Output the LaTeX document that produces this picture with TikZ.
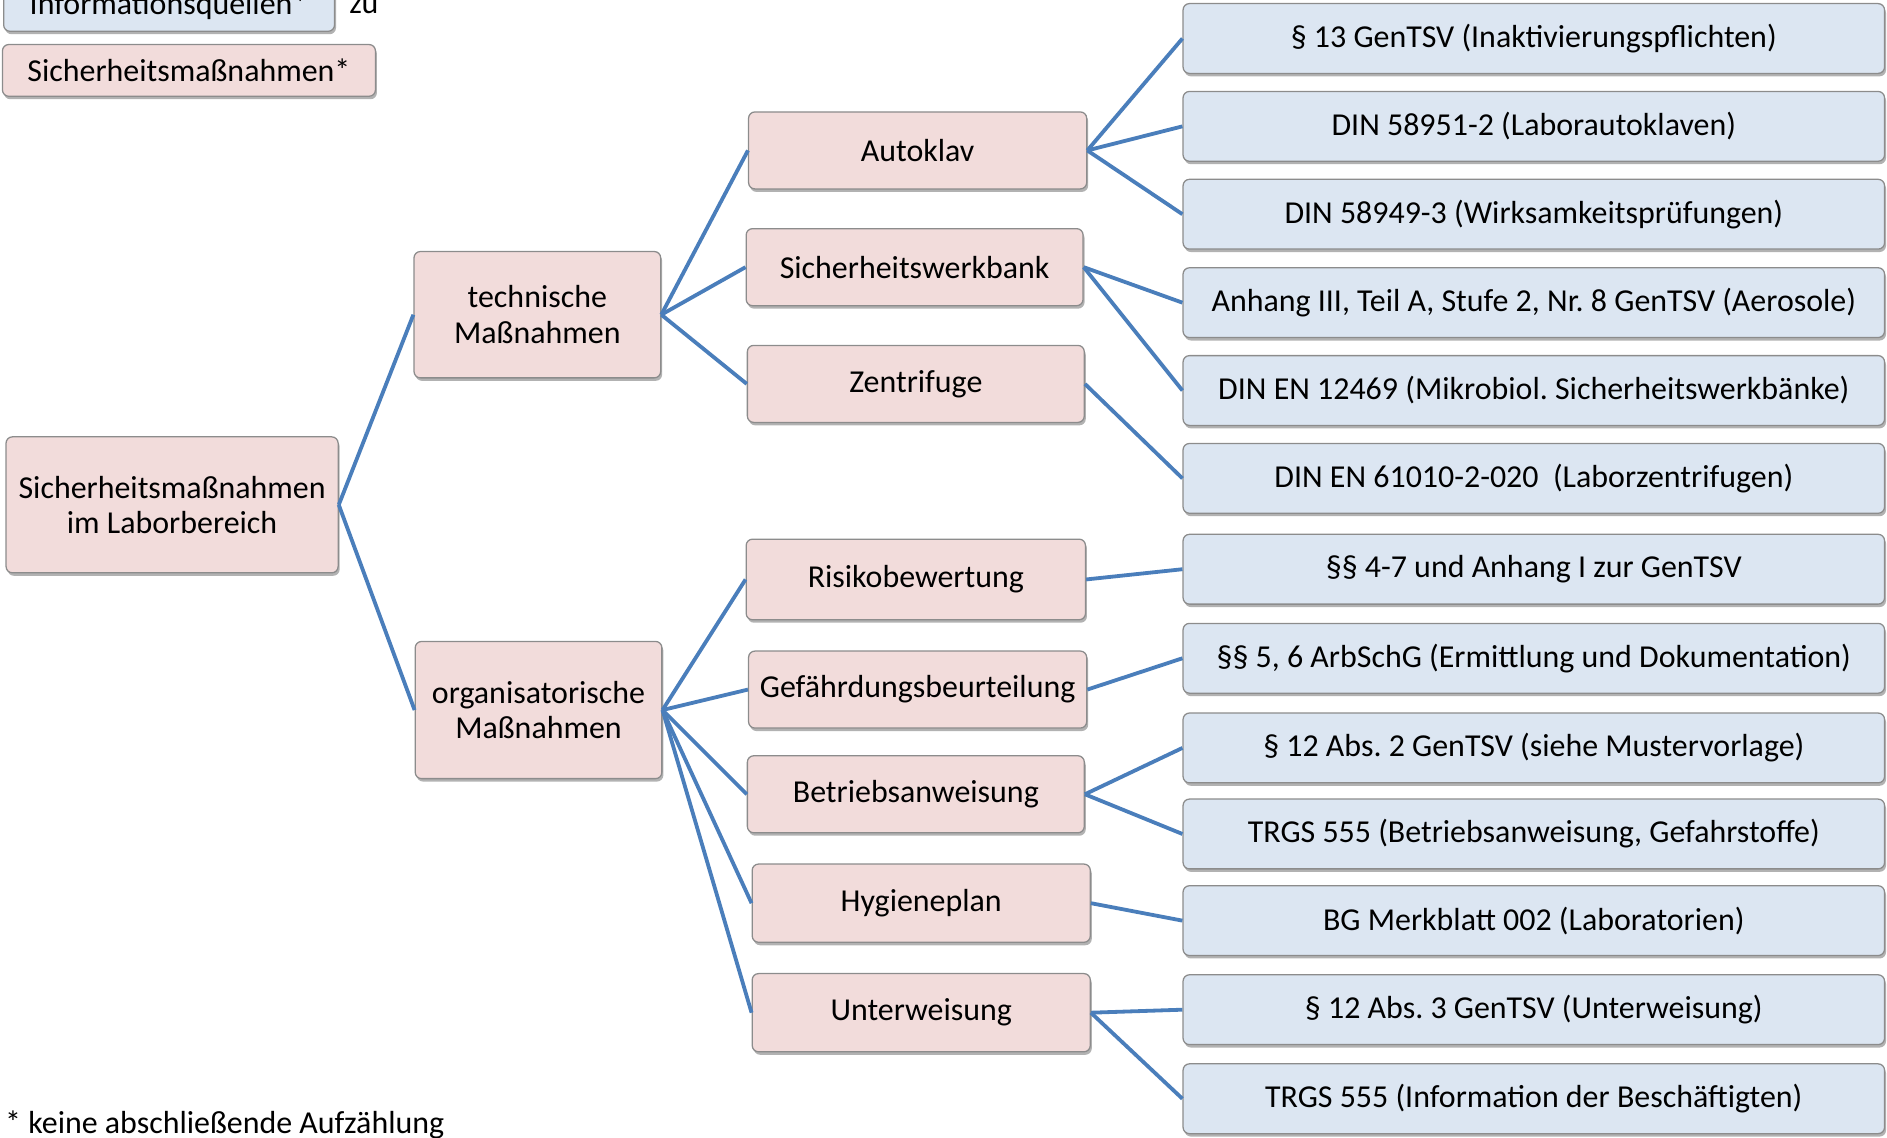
\documentclass[tikz,border=0pt]{standalone}
\usepackage{fontspec}
\setmainfont{Carlito}
\usetikzlibrary{shadows}
\frenchspacing

\definecolor{rosa}{HTML}{F2DCDB}
\definecolor{hellblau}{HTML}{DCE6F2}
\definecolor{linie}{HTML}{4A7EBB}
\definecolor{rand}{HTML}{8C8C8C}

\begin{document}
\begin{tikzpicture}[x=0.02cm, y=-0.02cm,
    box/.style={draw=rand, line width=0.6pt, rounded corners=3pt, inner sep=0pt,
      align=center, font=\fontsize{15.1}{16.8}\selectfont,
      drop shadow={shadow xshift=0.7pt, shadow yshift=-1.4pt, opacity=0.3, fill=black}},
    mass/.style={box, fill=rosa},
    quelle/.style={box, fill=hellblau, minimum width=11.66cm, minimum height=1.16cm},
    ast/.style={linie, line width=1.8pt}]
  \useasboundingbox (0, 0) rectangle (1568, 945);

  % Legende
  \node[quelle, minimum width=5.5cm, minimum height=0.84cm] (lq) at (140.5, 5) {Informationsquellen*};
  \node[anchor=west, font=\fontsize{15.1}{16.8}\selectfont] (zu) at (284, 5) {zu};
  \node[mass, minimum width=6.2cm, minimum height=0.86cm] (lm) at (157, 58.5) {Sicherheitsmaßnahmen*};

  % Massnahmen
  \node[mass, minimum width=5.52cm, minimum height=2.26cm] (root) at (143, 419.5) {Sicherheitsmaßnahmen\\im Laborbereich};
  \node[mass, minimum width=4.1cm, minimum height=2.1cm] (tech) at (446.5, 261.5) {technische\\Maßnahmen};
  \node[mass, minimum width=4.1cm, minimum height=2.28cm] (org) at (447.5, 590) {organisatorische\\Maßnahmen};

  \node[mass, minimum width=5.62cm, minimum height=1.28cm] (auto) at (762.5, 125) {Autoklav};
  \node[mass, minimum width=5.6cm, minimum height=1.28cm] (swb) at (760, 222) {Sicherheitswerkbank};
  \node[mass, minimum width=5.6cm, minimum height=1.28cm] (zent) at (761, 319) {Zentrifuge};
  \node[mass, minimum width=5.64cm, minimum height=1.34cm] (risk) at (761, 481.5) {Risikobewertung};
  \node[mass, minimum width=5.62cm, minimum height=1.28cm] (gef) at (762.5, 573) {Gefährdungsbeurteilung};
  \node[mass, minimum width=5.6cm, minimum height=1.28cm] (betr) at (761, 660) {Betriebsanweisung};
  \node[mass, minimum width=5.62cm, minimum height=1.3cm] (hyg) at (765.5, 750.5) {Hygieneplan};
  \node[mass, minimum width=5.62cm, minimum height=1.3cm] (unt) at (765.5, 841.5) {Unterweisung};

  % Informationsquellen
  \node[quelle] (q1) at (1274.5, 32) {§ 13 GenTSV (Inaktivierungspflichten)};
  \node[quelle] (q2) at (1274.5, 105) {DIN 58951-2 (Laborautoklaven)};
  \node[quelle] (q3) at (1274.5, 178) {DIN 58949-3 (Wirksamkeitsprüfungen)};
  \node[quelle] (q4) at (1274.5, 251.5) {Anhang III, Teil A, Stufe 2, Nr. 8 GenTSV (Aerosole)};
  \node[quelle] (q5) at (1274.5, 324.5) {DIN EN 12469 (Mikrobiol. Sicherheitswerkbänke)};
  \node[quelle] (q6) at (1274.5, 397.5) {DIN EN 61010-2-020\ \ (Laborzentrifugen)};
  \node[quelle] (q7) at (1274.5, 473) {§§ 4-7 und Anhang I zur GenTSV};
  \node[quelle] (q8) at (1274.5, 547) {§§ 5, 6 ArbSchG (Ermittlung und Dokumentation)};
  \node[quelle] (q9) at (1274.5, 621.5) {§ 12 Abs. 2 GenTSV (siehe Mustervorlage)};
  \node[quelle] (q10) at (1274.5, 693) {TRGS 555 (Betriebsanweisung, Gefahrstoffe)};
  \node[quelle] (q11) at (1274.5, 765) {BG Merkblatt 002 (Laboratorien)};
  \node[quelle] (q12) at (1274.5, 839) {§ 12 Abs. 3 GenTSV (Unterweisung)};
  \node[quelle] (q13) at (1274.5, 913) {TRGS 555 (Information der Beschäftigten)};

  \foreach \a/\b in {root/tech, root/org, tech/auto, tech/swb, tech/zent,
      org/risk, org/gef, org/betr, org/hyg, org/unt,
      auto/q1, auto/q2, auto/q3, swb/q4, swb/q5, zent/q6, risk/q7, gef/q8,
      betr/q9, betr/q10, hyg/q11, unt/q12, unt/q13} {
    \draw[ast] (\a.east) -- (\b.west);
  }

  \node[anchor=base west, inner sep=0pt, font=\fontsize{15.1}{16.8}\selectfont] (fuss) at (4, 941.5) {* keine abschließende Aufzählung};
\end{tikzpicture}
\end{document}
